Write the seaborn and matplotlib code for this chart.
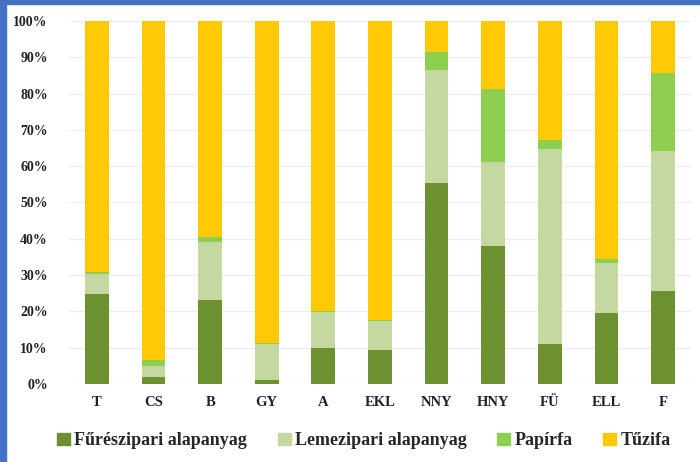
import matplotlib
matplotlib.use("Agg")
import matplotlib.pyplot as plt
import matplotlib.patches as mpatches
import seaborn as sns
import pandas as pd
import numpy as np

categories = ["T", "CS", "B", "GY", "A", "EKL", "NNY", "HNY", "FÜ", "ELL", "F"]
fureszipari = [24.8, 1.8, 23.0, 1.1, 9.9, 9.3, 55.4, 37.9, 11.0, 19.6, 25.6]
lemezipari = [5.5, 3.2, 16.0, 9.8, 9.9, 8.0, 31.1, 23.2, 53.7, 13.7, 38.6]
papirfa = [0.5, 1.6, 1.5, 0.5, 0.4, 0.4, 5.0, 20.1, 2.5, 1.2, 21.4]
tuzifa = [100 - a - b - c for a, b, c in zip(fureszipari, lemezipari, papirfa)]

series_names = ["Fűrészipari alapanyag", "Lemezipari alapanyag", "Papírfa", "Tűzifa"]
series_vals = [fureszipari, lemezipari, papirfa, tuzifa]
colors = ["#6D9130", "#C5D8A2", "#8ECF50", "#FFC905"]
y_ticks = [0, 10, 20, 30, 40, 50, 60, 70, 80, 90, 100]

sns.set_theme(style="white")
plt.rcParams["font.family"] = ["Liberation Serif", "DejaVu Serif"]

fig = plt.figure(figsize=(7, 4.62), dpi=100)
ax = fig.add_axes([0.098, 0.169, 0.8896, 0.7855])

cum = np.cumsum(np.array(series_vals), axis=0)
for i in reversed(range(len(series_names))):
    df = pd.DataFrame({"cat": categories, "val": cum[i]})
    sns.barplot(data=df, x="cat", y="val", color=colors[i], width=0.42,
                saturation=1, ax=ax, zorder=3, edgecolor="none")

ax.set_xlim(-0.5, len(categories) - 0.5)
ax.set_ylim(0, 100)
ax.set_yticks(y_ticks)
ax.set_yticklabels([f"{t}%" for t in y_ticks], fontsize=10, fontweight="bold", color="#222222")
ax.set_xticks(range(len(categories)))
ax.set_xticklabels(categories, fontsize=10.5, fontweight="bold", color="#222222")
ax.tick_params(axis="y", length=0, pad=15)
ax.tick_params(axis="x", length=0, pad=9)
ax.set_xlabel("")
ax.set_ylabel("")
for s in ax.spines.values():
    s.set_visible(False)
ax.yaxis.grid(True, color="#ececec", linewidth=0.8, zorder=0)
ax.axhline(0, color="#dddddd", linewidth=0.8, zorder=2)

handles = [mpatches.Patch(color=c, label=n) for c, n in zip(colors, series_names)]
fig.legend(handles=handles, loc="center", bbox_to_anchor=(0.52, 0.046), ncol=4,
           frameon=False, prop={"size": 13, "weight": "bold"},
           handlelength=0.7, handleheight=0.7, handletextpad=0.25, columnspacing=1.7)

# blue frame edges
fig.patches.append(mpatches.Rectangle((0, 0), 0.009, 1, transform=fig.transFigure,
                                      color="#4472C4", zorder=10))
fig.patches.append(mpatches.Rectangle((0, 0.991), 1, 0.009, transform=fig.transFigure,
                                      color="#4472C4", zorder=10))

fig.savefig("out.png", dpi=100)
